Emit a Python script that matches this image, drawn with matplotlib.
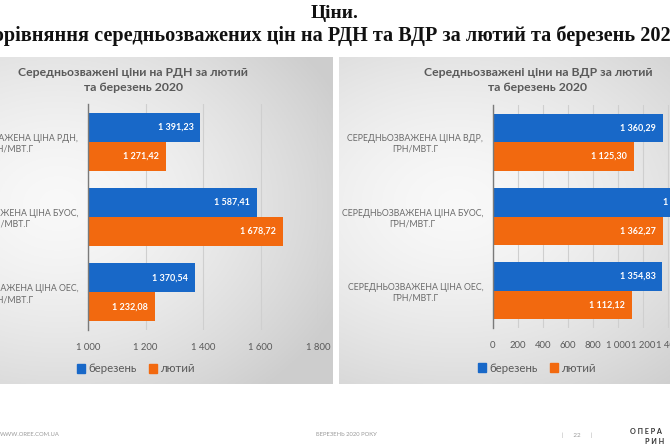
import numpy as np
import matplotlib
matplotlib.use("Agg")
import matplotlib.pyplot as plt
from matplotlib.patches import Patch

# data
series = ["березень", "лютий"]
rdn_labels = ["СЕРЕДНЬОЗВАЖЕНА ЦІНА РДН,\nГРН/МВТ.Г",
              "СЕРЕДНЬОЗВАЖЕНА ЦІНА БУОС,\nГРН/МВТ.Г",
              "СЕРЕДНЬОЗВАЖЕНА ЦІНА ОЕС,\nГРН/МВТ.Г"]
rdn_march = [1391.23, 1587.41, 1370.54]
rdn_feb = [1271.42, 1678.72, 1232.08]
vdr_labels = ["СЕРЕДНЬОЗВАЖЕНА ЦІНА ВДР,\nГРН/МВТ.Г",
              "СЕРЕДНЬОЗВАЖЕНА ЦІНА БУОС,\nГРН/МВТ.Г",
              "СЕРЕДНЬОЗВАЖЕНА ЦІНА ОЕС,\nГРН/МВТ.Г"]
vdr_march = [1360.29, 1705.00, 1354.83]
vdr_feb = [1125.30, 1362.27, 1112.12]

BLUE = "#1868c8"
ORANGE = "#f2690f"
GREY = "#595959"

plt.rcParams["font.family"] = ["Lato", "DejaVu Sans"]

W, H = 670, 447
fig = plt.figure(figsize=(W / 100, H / 100), dpi=100)
fig.patch.set_facecolor("white")


def px(x0, y0, x1, y1):
    # pixel box (top-left origin) -> figure rect
    return [x0 / W, 1 - y1 / H, (x1 - x0) / W, (y1 - y0) / H]


def panel(x0, y0, x1, y1, cx=0.35, cy=0.45):
    bg = fig.add_axes(px(x0, y0, x1, y1), zorder=-5)
    yy, xx = np.mgrid[0:1:200j, 0:1:200j]
    r = np.sqrt(((xx - cx) / 0.8) ** 2 + ((yy - cy) / 0.75) ** 2)
    v = 0.975 - 0.17 * np.clip(r, 0, 1) ** 1.5
    bg.imshow(np.dstack([v, v, v]), aspect="auto", extent=(0, 1, 1, 0))
    bg.set_axis_off()


panel(-60, 57, 332, 384, cx=0.3)
panel(339, 57, 760, 384, cx=0.28)


def fmt(v):
    return f"{v:,.2f}".replace(",", " ").replace(".", ",")


def bars(ax, labels, march, feb, xmin, xmax, step):
    y = np.arange(len(labels))
    h = 0.385
    ax.barh(y - h / 2, np.array(march) - xmin, height=h, left=xmin, color=BLUE, zorder=3)
    ax.barh(y + h / 2, np.array(feb) - xmin, height=h, left=xmin, color=ORANGE, zorder=3)
    for yy, vals in [(y - h / 2, march), (y + h / 2, feb)]:
        for yi, v in zip(yy, vals):
            ax.annotate(fmt(v), (v, yi), xytext=(-5, 0), textcoords="offset points",
                        ha="right", va="center", color="white", fontsize=6.5,
                        fontweight="bold", zorder=4)
    ax.set_xlim(xmin, xmax)
    ax.set_ylim(len(labels) - 0.5, -0.5)
    ticks = np.arange(xmin, xmax + 1, step)
    ax.set_xticks(ticks)
    ax.set_xticklabels([f"{t:,}".replace(",", " ") for t in ticks])
    ax.set_yticks(y)
    ax.set_yticklabels(labels, multialignment="center", fontsize=6.3,
                       color="#6a6a6a", linespacing=1.25)
    ax.tick_params(axis="both", length=0)
    ax.tick_params(axis="x", labelsize=6.8, labelcolor=GREY, pad=9)
    ax.tick_params(axis="y", pad=7)
    ax.set_facecolor("none")
    for s in ["top", "right", "bottom"]:
        ax.spines[s].set_visible(False)
    ax.spines["left"].set_color("#7a7a7a")
    ax.spines["left"].set_linewidth(1.0)
    ax.spines["left"].set_zorder(5)
    ax.grid(axis="x", color="#cfcfcf", lw=0.8, zorder=0)
    ax.set_axisbelow(True)


ax1 = fig.add_axes(px(88, 104, 318, 330))
bars(ax1, rdn_labels, rdn_march, rdn_feb, 1000, 1800, 200)

ax2 = fig.add_axes(px(493, 105, 718, 328))
bars(ax2, vdr_labels, vdr_march, vdr_feb, 0, 1800, 200)

# chart titles
fig.text(133 / W, 1 - 80 / H, "Середньозважені ціни на РДН за лютий\nта березень 2020",
         ha="center", va="center", fontsize=8.8, fontweight="bold", color=GREY,
         linespacing=1.4)
fig.text(538 / W, 1 - 80 / H, "Середньозважені ціни на ВДР за лютий\nта березень 2020",
         ha="center", va="center", fontsize=8.8, fontweight="bold", color=GREY,
         linespacing=1.4)

# legends
handles = [Patch(color=BLUE), Patch(color=ORANGE)]
for cx, cy in [(136, 369), (537, 368)]:
    fig.legend(handles, series, loc="center", bbox_to_anchor=(cx / W, 1 - cy / H),
               ncol=2, frameon=False, fontsize=8.3, handlelength=0.7,
               handleheight=0.7, handletextpad=0.3, columnspacing=1.0,
               labelcolor=GREY)

# slide heading
fig.text(335 / W, 1 - 13 / H, "Ціни.", ha="center", va="center",
         family="Liberation Serif", fontweight="bold", fontsize=14, color="#111111")
fig.text(329 / W, 1 - 36 / H,
         "Порівняння середньозважених цін на РДН та ВДР за лютий та березень 2020",
         ha="center", va="center", family="Liberation Serif", fontweight="bold",
         fontsize=14.6, color="#111111")

# footer
fig.text(0 / W, 1 - 435 / H, "WWW.OREE.COM.UA", ha="left", va="center",
         fontsize=4.2, color="#9a9a9a")
fig.text(346 / W, 1 - 435 / H, "БЕРЕЗЕНЬ 2020 РОКУ", ha="center", va="center",
         fontsize=4.2, color="#9a9a9a")
fig.text(577 / W, 1 - 435 / H, "|      22      |", ha="center", va="center",
         fontsize=4.5, color="#9a9a9a")
fig.text(630 / W, 1 - 431 / H, "О П Е Р А", ha="left", va="center",
         fontsize=5.2, fontweight="bold", color="#333333")
fig.text(645 / W, 1 - 441 / H, "Р И Н", ha="left", va="center",
         fontsize=5.2, fontweight="bold", color="#333333")

fig.savefig("out.png", dpi=100)
